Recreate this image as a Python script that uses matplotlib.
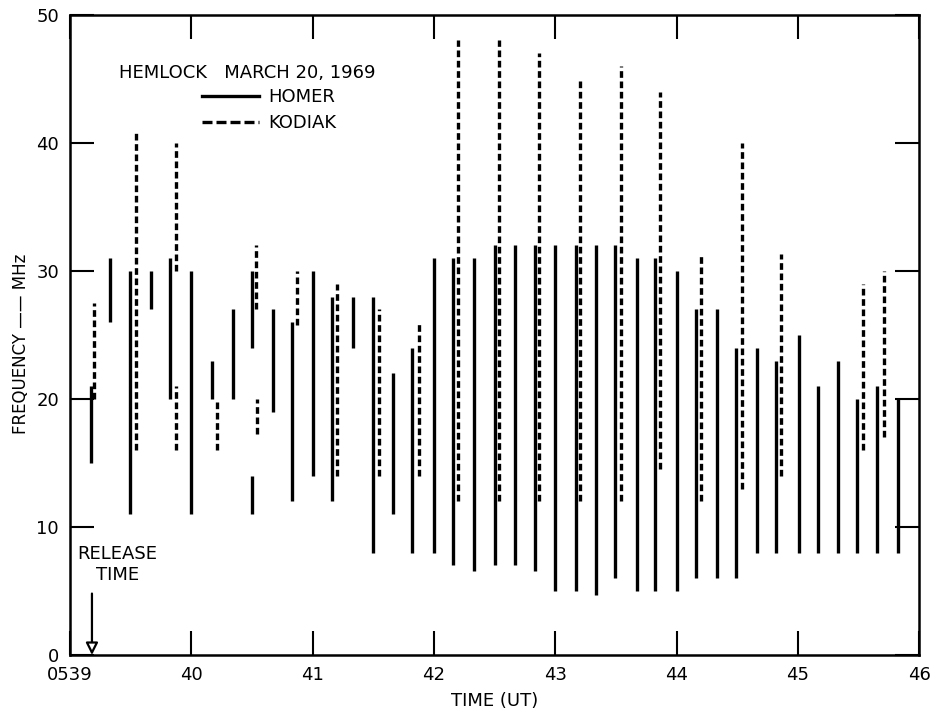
import numpy as np
import matplotlib.pyplot as plt
from matplotlib.lines import Line2D

# Observed frequency spans, minutes after 05:00 UT (HOMER = solid, KODIAK = dashed)
homer_t = [39.17, 39.33, 39.49, 39.67, 39.82, 40.00, 40.17, 40.34, 40.50, 40.50,
           40.67, 40.83, 41.00, 41.16, 41.33, 41.50, 41.66, 41.82, 42.00, 42.16,
           42.33, 42.50, 42.67, 42.83, 43.00, 43.17, 43.34, 43.49, 43.67, 43.82,
           44.00, 44.16, 44.33, 44.49, 44.66, 44.82, 45.01, 45.17, 45.33, 45.49,
           45.65, 45.83]
homer_lo = [15, 26, 11, 27, 20, 11, 20, 20, 24, 11,
            19, 12, 14, 12, 24, 8, 11, 8, 8, 7,
            6.6, 7, 7, 6.6, 5, 5, 4.7, 6, 5, 5,
            5, 6, 6, 6, 8, 8, 8, 8, 8, 8,
            8, 8]
homer_hi = [21, 31, 30, 30, 31, 30, 23, 27, 30, 14,
            27, 26, 30, 28, 28, 28, 22, 24, 31, 31,
            31, 32, 32, 32, 32, 32, 32, 32, 31, 31,
            30, 27, 27, 24, 24, 23, 25, 21, 23, 20,
            21, 20]

kodiak_t = [39.20, 39.54, 39.87, 39.87, 40.21, 40.53, 40.54, 40.87, 41.20, 41.55,
            41.88, 42.20, 42.54, 42.87, 43.20, 43.54, 43.86, 44.20, 44.54, 44.86,
            45.54, 45.71]
kodiak_lo = [20, 16, 30, 16, 16, 27, 17.3, 25.8, 14, 14,
             14, 12, 12, 12, 12, 12, 14.5, 12, 13, 14,
             16, 17]
kodiak_hi = [27.5, 41, 40, 21, 20, 32, 20, 30, 29, 27,
             26, 48, 48, 47, 45, 46, 44, 31.3, 40, 31.3,
             29, 30]

xticks = [39, 40, 41, 42, 43, 44, 45, 46]
xtick_labels = ["0539", "40", "41", "42", "43", "44", "45", "46"]
yticks = [0, 10, 20, 30, 40, 50]
release_t = 39.18

plt.rcParams['font.family'] = 'DejaVu Sans'
fig = plt.figure(figsize=(9.35, 7.16), dpi=100)
ax = fig.add_axes([0.075, 0.0852, 0.908, 0.894])

lw = 2.4
dash = (0, (2.0, 1.1))
ax.vlines(homer_t, homer_lo, homer_hi, colors='black', linewidth=lw,
          linestyles='solid', capstyle='butt')
ax.vlines(kodiak_t, kodiak_lo, kodiak_hi, colors='black', linewidth=lw,
          linestyles=[dash], capstyle='butt')

ax.set_xlim(39, 46)
ax.set_ylim(0, 50)
ax.set_xticks(xticks)
ax.set_xticklabels(xtick_labels)
ax.set_yticks(yticks)
ax.tick_params(direction='in', length=17, width=1.5, labelsize=13,
               top=True, right=True, pad=8)
for s in ax.spines.values():
    s.set_linewidth(1.8)

ax.set_xlabel("TIME (UT)", fontsize=13, labelpad=6)
fig.text(0.022, 0.52, "FREQUENCY —— MHz", rotation=90, fontsize=12,
         ha='center', va='center')

ax.text(39.40, 45.5, "HEMLOCK   MARCH 20, 1969", fontsize=13,
        ha='left', va='center')
handles = [Line2D([], [], color='black', lw=lw),
           Line2D([], [], color='black', lw=lw, linestyle=(0, (3.0, 1.2)))]
ax.legend(handles, ["HOMER", "KODIAK"], loc='upper left',
          bbox_to_anchor=(0.155, 0.886), frameon=False, fontsize=13,
          handlelength=3.2, handletextpad=0.5, labelspacing=0.45,
          borderpad=0, borderaxespad=0)

ax.text(39.39, 7.1, "RELEASE\nTIME", fontsize=13, ha='center', va='center',
        multialignment='center', linespacing=1.2)
ax.annotate('', xy=(release_t, 0), xytext=(release_t, 4.8),
            arrowprops=dict(arrowstyle='-|>', color='black', lw=1.6,
                            mutation_scale=18, shrinkA=0, shrinkB=0,
                            fc='white'))

fig.savefig("out.png", dpi=100)
